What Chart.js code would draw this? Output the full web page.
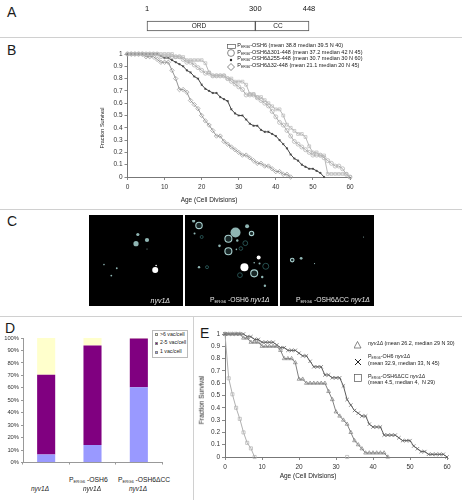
<!DOCTYPE html>
<html>
<head>
<meta charset="utf-8">
<style>
  html, body { margin: 0; padding: 0; background: #fff; }
  #page { position: relative; width: 462px; height: 500px; overflow: hidden; font-family: "Liberation Sans", Arial, sans-serif; color: #1a1a1a; }
  canvas { position: absolute; }
  .t { position: absolute; white-space: nowrap; line-height: 1; }
  .t sub { font-size: 0.62em; vertical-align: -0.25em; line-height: 0; }
  .rule { position: absolute; background: #d0d0d0; }
</style>
<script src="https://cdn.jsdelivr.net/npm/chart.js@4"></script>
</head>
<body>
<div id="page"></div>
<script>
// panel A
const domainStarts = [1, 300];
const domainEnds = [300, 448];
const domainTicks = [1, 300, 448];

// panel B, index is age in cell divisions
const osh6 = [1,1,1,1,1,1,1,1,1,1,1,1,1,.975,.975,.975,.95,.95,.95,.95,.95,.925,.85,.825,.825,.825,.825,.8,.8,.775,.775,.775,.75,.675,.675,.65,.65,.625,.6,.575,.55,.55,.5,.425,.4,.375,.35,.35,.325,.25,.2,.2,.175,.175,.025,.025,.025,.025,.025,.025,0];
const osh6d301 = [1,1,1,1,1,1,1,1,1,.978,.978,.978,.978,.978,.978,.956,.933,.933,.911,.889,.867,.844,.844,.822,.822,.822,.822,.8,.778,.756,.733,.711,.667,.667,.667,.644,.622,.6,.578,.533,.489,.444,.422,.378,.333,.289,.267,.244,.222,.2,.178,.178,.178,.156,.133,.111,.089,.089,.067,.022,0];
const osh6d255 = [1,1,1,1,1,1,1,1,1,.983,.967,.967,.95,.933,.917,.9,.867,.85,.817,.8,.75,.717,.7,.683,.683,.65,.633,.617,.55,.517,.5,.5,.467,.433,.417,.417,.383,.367,.367,.35,.333,.3,.267,.233,.183,.15,.133,.1,.083,.067,.067,.05,.033,0];
const osh6d32 = [1,1,1,1,1,.978,.978,.978,.956,.933,.933,.933,.867,.8,.711,.711,.689,.622,.589,.556,.5,.456,.422,.378,.333,.333,.289,.267,.244,.222,.2,.178,.178,.156,.133,.111,.111,.089,.089,.067,.044,.044,.022,.022,0];

// panel D
const vacCategories = ["nyv1", "PERG6-OSH6 nyv1", "PERG6-OSH6dCC nyv1"];
const oneVac = [6.5, 14, 60.5];
const twoToFiveVac = [64, 80, 39];
const sixPlusVac = [29.5, 6, 0.5];
const pctTicks = [0, 10, 20, 30, 40, 50, 60, 70, 80, 90, 100];

// panel E, index is age in cell divisions
const nyv1 = [1,1,1,1,1,.967,.967,.933,.933,.933,.9,.9,.9,.9,.9,.867,.8,.8,.8,.767,.633,.633,.6,.6,.6,.6,.6,.6,.533,.467,.367,.333,.3,.267,.2,.133,.1,.067,.033,.033,.033,.033,.033,.033,0];
const erg6Osh6 = [1,1,1,1,1,1,.978,.978,.956,.956,.933,.933,.933,.933,.911,.889,.889,.867,.867,.867,.844,.822,.822,.778,.733,.733,.733,.667,.667,.644,.644,.644,.578,.467,.422,.378,.356,.333,.333,.267,.244,.244,.244,.178,.178,.178,.178,.156,.133,.133,.133,.089,.067,.044,.044,.022,.022,.022,.022,.022,0];
const erg6OshDcc = [1,.64,.51,.4,.31,.2,.115,.07,0,null,null,null,null,null,null,null,null,null,null,null,null,null,null,null,null,null,null,null,null,null,null,null,null,0];

// panel C fluorescent spots, x/y are in micrograph units
const imgA = {
  bright: [{x:68,y:56,r:3},{x:69,y:51,r:.8}],
  mid: [{x:49,y:17,r:1.6},{x:47,y:27,r:2.6},{x:59,y:23,r:2.1},{x:12,y:50,r:.8},{x:26,y:54,r:.9},{x:20,y:62,r:.9},{x:59,y:33,r:.5}],
  ring: [], dim: []
};
const imgB = {
  bright: [{x:61,y:53,r:4},{x:51,y:13,r:3.2},{x:77,y:42,r:2}],
  mid: [{x:51,y:14,r:5},{x:64,y:7,r:2},{x:33,y:29,r:1.3},{x:53,y:23,r:1.2},{x:4,y:1,r:1.6},{x:5,y:15,r:1},{x:78,y:49,r:1},{x:72,y:48,r:.8},{x:81,y:64,r:1.2},{x:84,y:74,r:1.2},{x:10,y:53,r:1.2},{x:52,y:33,r:.8}],
  ring: [{x:10,y:6,r:3.2},{x:43,y:21,r:3.5},{x:43,y:35,r:3.5},{x:72,y:60,r:3.5},{x:69,y:15,r:2.2}],
  dim: [{x:62,y:26,r:2.4},{x:57,y:32,r:1.8},{x:85,y:52,r:3},{x:56,y:62,r:2.4},{x:13,y:19,r:1.5},{x:19,y:53,r:1.5}]
};
const imgC = {
  bright: [],
  mid: [{x:18,y:43,r:1.4},{x:33,y:49,r:.6},{x:88,y:19,r:.5}],
  ring: [{x:8,y:45,r:1.8}], dim: []
};

const FONT = '"Liberation Sans", Arial, sans-serif';
const page = document.getElementById("page");

function txt(x, y, html, size, css) {
  const el = document.createElement("div");
  el.className = "t";
  el.innerHTML = html;
  el.style.cssText = `left:${x}px;top:${y}px;font-size:${size}px;transform:translateY(-50%);${css || ""}`;
  page.appendChild(el);
  return el;
}

function rule(x, y, w, h) {
  const el = document.createElement("div");
  el.className = "rule";
  el.style.cssText = `left:${x}px;top:${y}px;width:${w}px;height:${h}px`;
  page.appendChild(el);
}

function addChart(left, top, w, h, config, css) {
  const c = document.createElement("canvas");
  c.width = w;
  c.height = h;
  c.style.cssText = `left:${left}px;top:${top}px;width:${w}px;height:${h}px;${css || ""}`;
  page.appendChild(c);
  config.options.responsive = false;
  config.options.animation = false;
  config.options.devicePixelRatio = 1;
  config.options.plugins = { legend: { display: false }, tooltip: { enabled: false } };
  return new Chart(c.getContext("2d"), config);
}

function pts(values) {
  return values.map((v, i) => ({ x: i, y: v }));
}

function survivalDataset(values, color, style, radius, fill) {
  return {
    data: pts(values),
    borderColor: color,
    borderWidth: 1,
    pointStyle: style,
    pointRadius: radius,
    pointBorderColor: color,
    pointBorderWidth: 0.7,
    pointBackgroundColor: fill || "rgba(255,255,255,0)",
    tension: 0,
    clip: false
  };
}

function survivalOptions(axisWidth) {
  return {
    layout: { padding: { top: 8, right: 12, left: 0, bottom: 0 } },
    scales: {
      x: {
        type: "linear", min: 0, max: 60,
        grid: { drawOnChartArea: false, tickLength: 3, color: "#888" },
        border: { color: "#777" },
        ticks: { stepSize: 10, font: { size: 6.5, family: FONT }, color: "#333", padding: 3, maxRotation: 0 },
        afterFit: s => { s.height = 19; }
      },
      y: {
        min: 0, max: 1,
        grid: { drawOnChartArea: false, tickLength: 3, color: "#888" },
        border: { color: "#777" },
        ticks: { stepSize: 0.1, font: { size: 6.5, family: FONT }, color: "#333", padding: 2, callback: v => String(+v.toFixed(1)) },
        afterFit: s => { s.width = axisWidth; }
      }
    }
  };
}

// separators
rule(0, 37, 462, 1);
rule(0, 209, 462, 1);
rule(0, 316, 462, 1);
rule(193, 316, 1, 184);

// panel letters
txt(7, 12, "A", 14);
txt(7, 50, "B", 14);
txt(7, 221, "C", 14);
txt(5, 328, "D", 14);
txt(200, 333, "E", 14);

// A
addChart(130, 0, 200, 33, {
  type: "bar",
  data: {
    labels: ["OSH6"],
    datasets: [
      { data: [[domainStarts[0], domainEnds[0]]], backgroundColor: "#fff", borderColor: "#555", borderWidth: 1, borderSkipped: false, clip: false, grouped: false, barPercentage: 1, categoryPercentage: 1 },
      { data: [[domainStarts[1], domainEnds[1]]], backgroundColor: "#fff", borderColor: "#555", borderWidth: 1, borderSkipped: false, clip: false, grouped: false, barPercentage: 1, categoryPercentage: 1 }
    ]
  },
  options: {
    indexAxis: "y",
    layout: { padding: { left: 17, right: 21, top: 0, bottom: 2 } },
    scales: {
      x: {
        type: "linear", position: "top", min: 1, max: 448,
        grid: { display: false, drawTicks: false }, border: { display: false },
        afterBuildTicks: s => { s.ticks = domainTicks.map(v => ({ value: v })); },
        ticks: { font: { size: 7.5, family: FONT }, color: "#111", padding: 8, maxRotation: 0, autoSkip: false, callback: v => String(v) },
        afterFit: s => { s.height = 21; }
      },
      y: { display: false }
    }
  }
});
txt(199, 25.5, "ORD", 6.5, "transform:translate(-50%,-50%)");
txt(278, 25.5, "CC", 6.5, "transform:translate(-50%,-50%)");

// B
addChart(100, 46, 262, 150, {
  type: "line",
  data: {
    datasets: [
      survivalDataset(osh6, "#b8b8b8", "rect", 2),
      survivalDataset(osh6d301, "#acacac", "circle", 2),
      survivalDataset(osh6d255, "#444", "star", 1.1),
      survivalDataset(osh6d32, "#959595", "rectRot", 2.2)
    ]
  },
  options: survivalOptions(27.5)
}, "filter:blur(.3px)");
txt(209, 200, "Age (Cell Divisions)", 6.5, "transform:translate(-50%,-50%)");
txt(103, 128, "Fraction Survival", 5.5, "transform:translate(-50%,-50%) rotate(-90deg)");

const P = "P<sub>ERG6</sub>";
const legendB = [
  P + "-OSH6 (mean 38.8 median 39.5 N 40)",
  P + "-OSH6Δ301-448 (mean 37.2 median 42 N 45)",
  P + "-OSH6Δ255-448 (mean 30.7 median 30 N 60)",
  P + "-OSH6Δ32-448 (mean 21.1 median 20 N 45)"
];
legendB.forEach((s, i) => txt(237.3, 46 + i * 6.7, s, 5.5));

function icon(svg, x, y, w, h) {
  const el = document.createElement("div");
  el.style.cssText = `position:absolute;left:${x - w / 2}px;top:${y - h / 2}px;width:${w}px;height:${h}px`;
  el.innerHTML = `<svg width="${w}" height="${h}" viewBox="0 0 ${w} ${h}" xmlns="http://www.w3.org/2000/svg" fill="none" stroke="#555" stroke-width="0.7" style="display:block">${svg}</svg>`;
  page.appendChild(el);
}
icon('<rect x=".5" y=".5" width="8" height="4"/>', 231, 46, 9, 5);
icon('<circle cx="4" cy="4" r="3.4"/>', 231, 53, 8, 8);
icon('<circle cx="2" cy="2" r="1.2" fill="#222" stroke="none"/>', 231, 60, 4, 4);
icon('<path d="M4 .5L7.5 4L4 7.5L.5 4Z"/>', 231, 67, 8, 8);

// C
function spotDatasets(img) {
  return [
    { data: img.dim, backgroundColor: "rgba(0,0,0,0)", borderColor: "#2f6262", borderWidth: 0.8 },
    { data: img.ring, backgroundColor: "rgba(70,110,110,.35)", borderColor: "#a9d0cf", borderWidth: 1.1 },
    { data: img.mid, backgroundColor: "#8fb5b3", borderColor: "#8fb5b3", borderWidth: 0 },
    { data: img.bright, backgroundColor: "#fff", borderColor: "#fff", borderWidth: 0 }
  ];
}
function spotChart(left, w, img) {
  addChart(left, 215, w, 91, {
    type: "bubble",
    data: { datasets: spotDatasets(img) },
    options: {
      layout: { padding: 0 },
      scales: {
        x: { display: false, min: 0, max: w },
        y: { display: false, min: 0, max: 91, reverse: true }
      }
    }
  }, "background:#000;filter:blur(.4px)");
}
spotChart(89, 94, imgA);
spotChart(185, 93, imgB);
spotChart(280, 94, imgC);
const W = "color:#e8e8e8";
txt(150.5, 300, "<i>nyv1Δ</i>", 7, W);
txt(210, 300, "P<sub>ERG6</sub> -OSH6 <i>nyv1Δ</i>", 6.8, W);
txt(296, 300, "P<sub>ERG6</sub> -OSH6ΔCC <i>nyv1Δ</i>", 6.8, W);

// D
function vacDataset(values, color) {
  return { data: values, backgroundColor: color, barPercentage: 0.39, categoryPercentage: 1 };
}
addChart(0, 330, 166, 138, {
  type: "bar",
  data: {
    labels: vacCategories,
    datasets: [
      vacDataset(oneVac, "#9999ff"),
      vacDataset(twoToFiveVac, "#800080"),
      vacDataset(sixPlusVac, "#ffffcc")
    ]
  },
  options: {
    layout: { padding: { top: 8, right: 4, left: 0, bottom: 0 } },
    scales: {
      x: {
        stacked: true,
        grid: { drawOnChartArea: false, tickLength: 2, color: "#999" },
        border: { color: "#999" },
        ticks: { display: false },
        afterFit: s => { s.height = 5; }
      },
      y: {
        stacked: true, min: 0, max: 100,
        grid: { drawOnChartArea: false, tickLength: 2, color: "#999" },
        border: { color: "#999" },
        afterBuildTicks: s => { s.ticks = pctTicks.map(v => ({ value: v })); },
        ticks: { font: { size: 5.8, family: FONT }, color: "#333", padding: 2, callback: v => v + "%" },
        afterFit: s => { s.width = 23; }
      }
    }
  }
});

const box = document.createElement("div");
box.style.cssText = "position:absolute;left:152px;top:330px;width:34px;height:26px;border:1px solid #bbb;background:#fff";
page.appendChild(box);
[["&gt;6 vac/cell", "#ffffcc", 334.5], ["2-5 vac/cell", "#800080", 343], ["1 vac/cell", "#9999ff", 352]].forEach(([s, col, y]) => {
  const sw = document.createElement("div");
  sw.style.cssText = `position:absolute;left:155px;top:${y - 1.5}px;width:3px;height:3px;background:${col};border:.5px solid #888;box-sizing:border-box`;
  page.appendChild(sw);
  txt(160, y, s, 5.2);
});

txt(40, 489, "<i>nyv1Δ</i>", 6.5, "transform:translate(-50%,-50%)");
txt(69, 480, "P<sub>ERG6</sub> -OSH6", 6.8);
txt(92, 489, "<i>nyv1Δ</i>", 6.5, "transform:translate(-50%,-50%)");
txt(118, 480, "P<sub>ERG6</sub> -OSH6ΔCC", 6.7);
txt(138, 489, "<i>nyv1Δ</i>", 6.5, "transform:translate(-50%,-50%)");

// E
addChart(205, 326, 254, 150, {
  type: "line",
  data: {
    datasets: [
      survivalDataset(nyv1, "#808080", "triangle", 2.2),
      survivalDataset(erg6Osh6, "#5a5a5a", "crossRot", 2.4),
      survivalDataset(erg6OshDcc, "#b0b0b0", "rect", 2.2)
    ]
  },
  options: survivalOptions(20)
}, "filter:blur(.3px)");
txt(308, 476, "Age (Cell Divisions)", 6.5, "transform:translate(-50%,-50%)");
txt(202, 400, "Fraction Survival", 6.5, "transform:translate(-50%,-50%) rotate(-90deg)");

icon('<path d="M3.5 .5L7 7H0Z"/>', 357.7, 345, 8, 8);
icon('<path d="M1 1L7 7M7 1L1 7" stroke="#222" stroke-width="1"/>', 357.7, 362, 8, 8);
icon('<rect x=".5" y=".5" width="7" height="7"/>', 357.7, 378, 8, 8);
txt(368, 344, "<i>nyv1Δ</i> (mean 26.2, median 29 N 30)", 5.4);
txt(368, 357, P + "-OH6 <i>nyv1Δ</i>", 5.4);
txt(368, 363.5, "(mean 32.9, median 33, N 45)", 5.4);
txt(368, 377, P + "-OSH6ΔCC <i>nyv1Δ</i>", 5.4);
txt(368, 383, "(mean 4.5, median 4,&nbsp; N 29)", 5.4);
</script>
</body>
</html>
